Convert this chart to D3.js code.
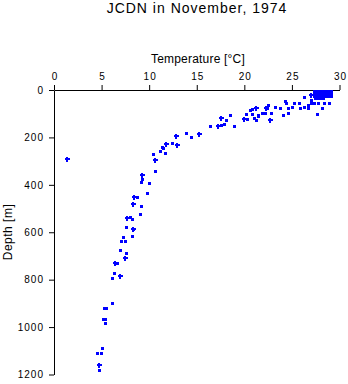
<!DOCTYPE html>
<html><head><meta charset="utf-8">
<script src="https://cdn.jsdelivr.net/npm/d3@7"></script>
<style>body{margin:0;background:#fff}svg{display:block}text{font-family:"Liberation Sans",Arial,Helvetica,sans-serif}</style>
</head><body><svg id="c" width="348" height="384"></svg>
<script>
const title = "JCDN in November, 1974";
const xLabel = "Temperature [°C]";
const yLabel = "Depth [m]";
const xTicks = [0, 5, 10, 15, 20, 25, 30];
const yTicks = [0, 200, 400, 600, 800, 1000, 1200];

// square-marker observations
const sqTemp = [13.9,14.4,12.4,11.7,11.5,11.15,11.3,10.38,10.66,9.25,9.18,10.02,9.81,8.76,9.18,9.04,7.99,8.2,7.57,8.34,8.2,7.29,7.08,7.5,6.97,7.6,6.66,6.27,6.13,6.13,5.26,5.47,5.18,5.4,5.33,5.05,4.9,4.55,4.76,
  16.37,17.5,17.9,18.05,18.5,18.9,20.3,20.2,20.6,20.85,20.85,21.4,21.05,21.2,21.4,21.9,22.2,22.45,22.4,22.8,23.2,23.7,24.08,24.3,24.4,24.57,24.6,25.06,25.2,25.76,25.9,26.3,26.26,26.96,27.0,27.3,26.7,26.7,27.6,27.7,28.2,28.35,28.85,
  27.3,27.6,27.9,28.2,28.5,28.8,29.1,27.3,27.6,27.9,28.2,28.5,28.8,29.1,27.3,27.6,27.9,28.2,28.5,28.8,29.1,27.3,27.6,27.9,28.2,28.5,28.8,29.1,27.4,27.7,28.0,28.3];
const sqDepth = [181,197,222,267,245,256,242,270,343,374,388,391,433,453,489,523,537,545,579,588,616,619,638,638,675,686,731,770,793,897,920,920,966,966,984,1088,1108,1111,1181,
  151,147,144,125,105,152,122,102,86,80,100,108,120,127,104,98,98,65,74,98,73,76,104,45,53,76,96,73,53,53,76,73,31,42,53,53,65,76,101,53,76,53,53,
  3,3,3,3,3,3,3,11,11,11,11,11,11,11,19,19,19,19,19,19,19,27,27,27,27,27,27,27,33,33,33,33];

// plus-marker observations
const plTemp = [1.33,12.85,15.28,12.9,11.78,10.66,9.25,8.41,8.27,7.64,8.34,7.47,6.45,6.9,4.76,17.2,17.5,19.95,22.3,22.7,21.27,26.96];
const plDepth = [292,192,186,233,228,295,360,450,481,540,585,709,728,784,1158,153,119,122,77,128,76,20];

const svg = d3.select("#c");
const x = d3.scaleLinear().domain([0, 30]).range([54, 339.5]);
const y = d3.scaleLinear().domain([0, 1200]).range([90, 374.5]);

const xa = svg.append("g").attr("transform", "translate(0,90)")
  .call(d3.axisTop(x).tickValues(xTicks).tickFormat(d3.format("d")).tickSize(5).tickSizeOuter(0).tickPadding(5));
const ya = svg.append("g").attr("transform", "translate(54,0)")
  .call(d3.axisLeft(y).tickValues(yTicks).tickFormat(d3.format("d")).tickSize(5).tickSizeOuter(0).tickPadding(5));
[xa, ya].forEach(g => {
  g.selectAll("text").attr("font-size", 10).attr("fill", "#000").attr("letter-spacing", 1)
    .style("font-family", '"Liberation Sans",Arial,sans-serif');
  g.selectAll("line,path").attr("stroke", "#000");
});
xa.selectAll("text").attr("dx", "0.5");

svg.append("text").attr("x", 197).attr("y", 13).attr("text-anchor", "middle").attr("font-size", 14)
  .attr("letter-spacing", 1).text(title);
svg.append("text").attr("x", 198).attr("y", 63).attr("text-anchor", "middle").attr("font-size", 12)
  .attr("letter-spacing", 0.2).text(xLabel);
svg.append("text").attr("transform", "translate(12,232) rotate(-90)").attr("text-anchor", "middle").attr("font-size", 12)
  .attr("letter-spacing", 0.5).text(yLabel);

const sq = sqTemp.map((t, i) => [t, sqDepth[i]]);
const pl = plTemp.map((t, i) => [t, plDepth[i]]);
svg.append("g").attr("shape-rendering", "crispEdges").selectAll("rect").data(sq).join("rect")
  .attr("x", d => Math.round(x(d[0])) - 1).attr("y", d => Math.round(y(d[1])) - 1)
  .attr("width", 3).attr("height", 3).attr("fill", "#0000ff");
const pg = svg.append("g").attr("shape-rendering", "crispEdges");
pl.forEach(d => {
  const cx = Math.round(x(d[0])), cy = Math.round(y(d[1]));
  pg.append("rect").attr("x", cx - 2).attr("y", cy - 1).attr("width", 5).attr("height", 2).attr("fill", "#0000ff");
  pg.append("rect").attr("x", cx - 1).attr("y", cy - 2).attr("width", 2).attr("height", 5).attr("fill", "#0000ff");
});
</script></body></html>
